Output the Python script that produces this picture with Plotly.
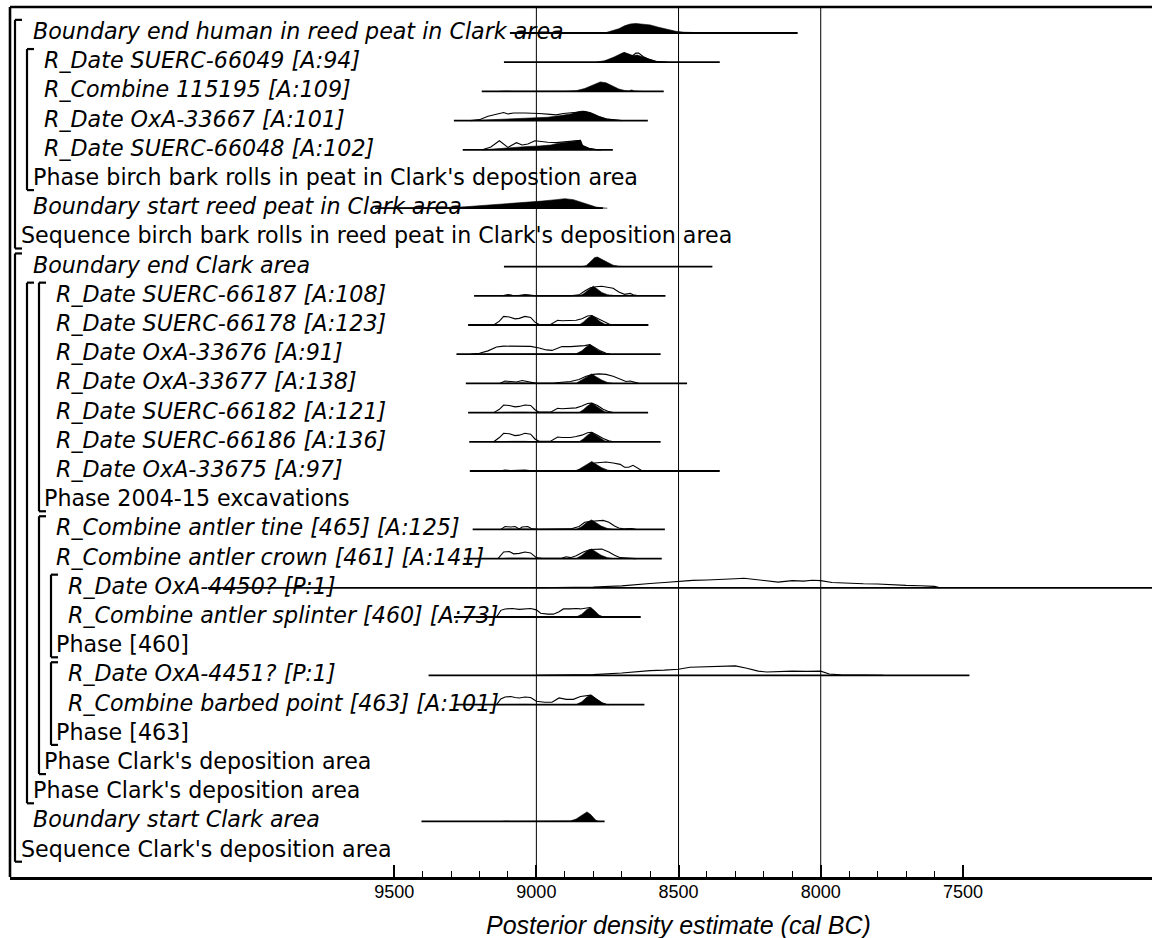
import plotly.graph_objects as go

# ---------------- layout constants ----------------
W, H = 1152, 938
ML, MT, MR, MB = 10, 7, 0, 61
PW = W - ML - MR
PH = H - MT - MB

x_range = [10851, 6835]          # cal BC, reversed (older on the left)
y_range = [29.904, 0.11]         # row index, row 1 at top

# ---------------- row labels ----------------
labels = [
    "Boundary end human in reed peat in Clark area",
    "R_Date SUERC-66049 [A:94]",
    "R_Combine 115195 [A:109]",
    "R_Date OxA-33667 [A:101]",
    "R_Date SUERC-66048 [A:102]",
    "Phase birch bark rolls in peat in Clark's depostion area",
    "Boundary start reed peat in Clark area",
    "Sequence birch bark rolls in reed peat in Clark's deposition area",
    "Boundary end Clark area",
    "R_Date SUERC-66187 [A:108]",
    "R_Date SUERC-66178 [A:123]",
    "R_Date OxA-33676 [A:91]",
    "R_Date OxA-33677 [A:138]",
    "R_Date SUERC-66182 [A:121]",
    "R_Date SUERC-66186 [A:136]",
    "R_Date OxA-33675 [A:97]",
    "Phase 2004-15 excavations",
    "R_Combine antler tine [465] [A:125]",
    "R_Combine antler crown [461] [A:141]",
    "R_Date OxA-4450? [P:1]",
    "R_Combine antler splinter [460] [A:73]",
    "Phase [460]",
    "R_Date OxA-4451? [P:1]",
    "R_Combine barbed point [463] [A:101]",
    "Phase [463]",
    "Phase Clark's deposition area",
    "Phase Clark's deposition area",
    "Boundary start Clark area",
    "Sequence Clark's deposition area",
]
levels = [1, 2, 2, 2, 2, 1, 1, 0,
          1, 3, 3, 3, 3, 3, 3, 3, 2, 3, 3, 4, 4, 3, 4, 4, 3, 2, 1, 1, 0]
italic = [1, 1, 1, 1, 1, 0, 1, 0,
          1, 1, 1, 1, 1, 1, 1, 1, 0, 1, 1, 1, 1, 0, 1, 1, 0, 0, 0, 1, 0]

# grouping brackets: (first row, label row, depth)
groups = [(1, 8, 0), (2, 6, 1), (9, 29, 0), (10, 27, 1),
          (10, 17, 2), (18, 26, 2), (20, 22, 3), (23, 25, 3)]

grid_years = [9000, 8500, 8000]
major_ticks = [9500, 9000, 8500, 8000, 7500]
minor_ticks = [9400, 9300, 9200, 9100, 8900, 8800, 8700, 8600, 8400, 8300,
               8200, 8100, 7900, 7800, 7700, 7600]

# ---------------- distributions ----------------
# row 1 Boundary end human in reed peat
b_end_human_line = [9093, 8081]
b_end_human_post_yr = [8760, 8740, 8710, 8690, 8670, 8650, 8630, 8600, 8570, 8540, 8510, 8480, 8440, 8400, 8350]
b_end_human_post_d = [0, 0.15, 0.45, 0.75, 0.95, 1.0, 0.97, 0.85, 0.6, 0.35, 0.18, 0.08, 0.03, 0.01, 0]

# row 2 SUERC-66049
s66049_line = [9114, 8355]
s66049_post_yr = [8790, 8760, 8730, 8710, 8695, 8675, 8660, 8645, 8625, 8600, 8580, 8560, 8540]
s66049_post_d = [0, 0.15, 0.5, 0.8, 1.0, 0.85, 0.7, 0.75, 0.55, 0.25, 0.1, 0.02, 0]
s66049_prior_yr = [8780, 8750, 8720, 8700, 8690, 8675, 8665, 8650, 8640, 8625, 8605, 8580, 8560, 8540]
s66049_prior_d = [0, 0.15, 0.55, 0.9, 1.0, 0.8, 0.6, 0.95, 0.95, 0.6, 0.3, 0.1, 0.03, 0]

# row 3 R_Combine 115195
c115195_line = [9192, 8552]
c115195_post_yr = [9130, 9105, 9080, 9040, 9010, 8900, 8860, 8830, 8800, 8775, 8755, 8730, 8710, 8690, 8675, 8665, 8655, 8630]
c115195_post_d = [0, 0.05, 0.01, 0.05, 0.01, 0.02, 0.08, 0.3, 0.7, 1.0, 0.9, 0.5, 0.25, 0.1, 0.05, 0.15, 0.05, 0]

# row 4 OxA-33667
o33667_line = [9290, 8608]
o33667_post_yr = [9230, 9180, 9120, 9080, 9040, 9000, 8960, 8920, 8880, 8850, 8835, 8810, 8780, 8750, 8720, 8700]
o33667_post_d = [0, 0.05, 0.15, 0.2, 0.25, 0.3, 0.35, 0.5, 0.7, 0.95, 1.0, 0.85, 0.45, 0.15, 0.03, 0]
o33667_prior_yr = [9230, 9200, 9170, 9150, 9130, 9115, 9100, 9080, 9040, 9010, 8990, 8950, 8930, 8905, 8880, 8850, 8830, 8810, 8780, 8750, 8720, 8700]
o33667_prior_d = [0, 0.1, 0.45, 0.6, 0.75, 0.85, 0.7, 0.8, 0.8, 0.8, 0.75, 0.65, 0.6, 0.75, 0.8, 0.9, 0.95, 0.8, 0.4, 0.15, 0.03, 0]

# row 5 SUERC-66048
s66048_line = [9259, 8731]
s66048_post_yr = [9190, 9150, 9110, 9070, 9030, 8990, 8950, 8920, 8890, 8860, 8845, 8838, 8815, 8790, 8770]
s66048_post_d = [0, 0.1, 0.2, 0.25, 0.35, 0.4, 0.5, 0.7, 0.85, 1.0, 1.0, 0.45, 0.15, 0.02, 0]
s66048_prior_yr = [9190, 9160, 9130, 9115, 9100, 9085, 9070, 9050, 9030, 9005, 8985, 8960, 8930, 8910, 8890, 8860, 8845, 8838, 8815, 8790, 8770]
s66048_prior_d = [0, 0.3, 0.95, 0.6, 0.25, 0.5, 0.75, 0.5, 0.6, 0.95, 0.85, 0.8, 0.75, 0.8, 0.85, 1.0, 1.0, 0.45, 0.15, 0.02, 0]

# row 7 Boundary start reed peat
b_start_reed_line = [9567, 8766]
b_start_reed_post_yr = [9560, 9400, 9300, 9250, 9150, 9050, 8980, 8930, 8900, 8870, 8840, 8810, 8790, 8770, 8750]
b_start_reed_post_d = [0, 0.02, 0.08, 0.15, 0.35, 0.55, 0.75, 0.9, 1.0, 0.9, 0.6, 0.3, 0.12, 0.04, 0]

# row 9 Boundary end Clark area
b_end_clark_line = [9114, 8381]
b_end_clark_post_yr = [9110, 9095, 9080, 8840, 8825, 8810, 8795, 8785, 8770, 8750, 8730, 8710, 8690]
b_end_clark_post_d = [0, 0.03, 0, 0, 0.1, 0.5, 0.95, 1.0, 0.8, 0.45, 0.15, 0.03, 0]

# row 10 SUERC-66187
s66187_line = [9219, 8546]
s66187_post_yr = [9110, 9095, 9080, 9050, 9030, 9010, 8850, 8835, 8815, 8800, 8785, 8770, 8750, 8730, 8700]
s66187_post_d = [0, 0.08, 0.02, 0.08, 0.08, 0, 0, 0.2, 0.7, 1.0, 0.7, 0.35, 0.12, 0.04, 0]
s66187_prior_yr = [9120, 9100, 9085, 9060, 9040, 9020, 9000, 8880, 8850, 8830, 8810, 8790, 8770, 8750, 8730, 8710, 8690, 8670, 8660, 8640]
s66187_prior_d = [0, 0.12, 0.05, 0.03, 0.12, 0.05, 0, 0, 0.1, 0.5, 0.85, 0.95, 1.0, 0.9, 0.8, 0.4, 0.15, 0.25, 0.1, 0]

# row 11 SUERC-66178
s66178_line = [9240, 8606]
s66178_post_yr = [9150, 9120, 9080, 9040, 9000, 8850, 8835, 8820, 8805, 8790, 8775, 8760, 8740]
s66178_post_d = [0, 0.05, 0.05, 0.05, 0, 0, 0.3, 0.7, 1.0, 0.7, 0.35, 0.1, 0]
s66178_prior_yr = [9150, 9130, 9115, 9095, 9075, 9060, 9040, 9020, 9005, 8990, 8950, 8935, 8925, 8910, 8880, 8860, 8840, 8820, 8805, 8785, 8765, 8745, 8730]
s66178_prior_d = [0, 0.4, 0.9, 0.85, 0.65, 0.7, 0.9, 0.8, 0.3, 0.05, 0.05, 0.3, 0.5, 0.45, 0.45, 0.5, 0.65, 0.95, 1.0, 0.7, 0.35, 0.1, 0]

# row 12 OxA-33676
o33676_line = [9281, 8563]
o33676_post_yr = [9230, 9150, 9050, 8950, 8860, 8840, 8825, 8812, 8798, 8780, 8760, 8740]
o33676_post_d = [0, 0.03, 0.04, 0.03, 0.05, 0.35, 0.75, 1.0, 0.7, 0.35, 0.1, 0]
o33676_prior_yr = [9230, 9200, 9170, 9140, 9115, 9080, 9050, 9020, 8990, 8965, 8945, 8925, 8910, 8880, 8850, 8830, 8812, 8795, 8775, 8755, 8740]
o33676_prior_d = [0, 0.1, 0.35, 0.75, 0.85, 0.82, 0.85, 0.82, 0.65, 0.45, 0.4, 0.6, 0.8, 0.8, 0.82, 0.9, 1.0, 0.7, 0.35, 0.1, 0]

# row 13 OxA-33677
o33677_line = [9248, 8470]
o33677_post_yr = [9120, 9100, 9080, 9050, 9020, 8990, 8860, 8845, 8825, 8805, 8790, 8770, 8750, 8730]
o33677_post_d = [0, 0.06, 0.02, 0.06, 0.02, 0, 0.02, 0.3, 0.7, 1.0, 0.7, 0.35, 0.1, 0]
o33677_prior_yr = [9130, 9110, 9090, 9070, 9050, 9030, 9000, 8940, 8920, 8880, 8850, 8825, 8800, 8780, 8755, 8730, 8705, 8685, 8670, 8655, 8640]
o33677_prior_d = [0, 0.25, 0.2, 0.15, 0.3, 0.2, 0, 0, 0.1, 0.2, 0.4, 0.75, 0.95, 1.0, 0.95, 0.75, 0.45, 0.2, 0.25, 0.1, 0]

# row 14 SUERC-66182
s66182_line = [9240, 8607]
s66182_post_yr = [9150, 9120, 9080, 9040, 9000, 8850, 8835, 8820, 8805, 8790, 8775, 8760, 8740]
s66182_post_d = [0, 0.04, 0.04, 0.04, 0, 0, 0.3, 0.7, 1.0, 0.7, 0.35, 0.1, 0]
s66182_prior_yr = [9150, 9130, 9115, 9095, 9075, 9060, 9040, 9020, 9005, 8990, 8950, 8935, 8925, 8910, 8880, 8860, 8840, 8820, 8805, 8785, 8765, 8745, 8730]
s66182_prior_d = [0, 0.35, 0.8, 0.75, 0.6, 0.65, 0.8, 0.75, 0.3, 0.05, 0.05, 0.25, 0.45, 0.4, 0.45, 0.5, 0.7, 0.95, 1.0, 0.75, 0.35, 0.1, 0]

# row 15 SUERC-66186
s66186_line = [9236, 8563]
s66186_post_yr = [9150, 9120, 9080, 9040, 9000, 8850, 8835, 8820, 8805, 8790, 8775, 8760, 8740]
s66186_post_d = [0, 0.05, 0.05, 0.05, 0, 0, 0.3, 0.7, 1.0, 0.7, 0.35, 0.1, 0]
s66186_prior_yr = [9150, 9130, 9115, 9095, 9075, 9060, 9040, 9020, 9005, 8990, 8950, 8935, 8925, 8910, 8880, 8860, 8840, 8820, 8805, 8785, 8765, 8745, 8730]
s66186_prior_d = [0, 0.45, 0.9, 0.85, 0.65, 0.7, 0.9, 0.8, 0.3, 0.05, 0.05, 0.35, 0.5, 0.45, 0.45, 0.55, 0.7, 0.95, 1.0, 0.7, 0.35, 0.1, 0]

# row 16 OxA-33675
o33675_line = [9234, 8355]
o33675_post_yr = [9120, 9100, 9060, 9020, 8860, 8840, 8820, 8805, 8790, 8770, 8750, 8730]
o33675_post_d = [0, 0.05, 0.05, 0, 0, 0.35, 0.75, 1.0, 0.7, 0.35, 0.1, 0]
o33675_prior_yr = [9130, 9110, 9090, 9060, 9040, 9010, 8880, 8860, 8840, 8815, 8795, 8775, 8755, 8730, 8705, 8690, 8675, 8660, 8645, 8630, 8620]
o33675_prior_d = [0, 0.1, 0.05, 0.05, 0.1, 0, 0, 0.05, 0.2, 0.6, 0.85, 0.9, 0.95, 0.85, 0.7, 0.4, 0.4, 0.6, 0.35, 0.05, 0]

# row 18 antler tine
tine_line = [9224, 8548]
tine_post_yr = [9120, 9100, 9040, 9000, 8860, 8840, 8822, 8806, 8790, 8772, 8750, 8730]
tine_post_d = [0, 0.05, 0.04, 0, 0, 0.3, 0.75, 1.0, 0.7, 0.35, 0.1, 0]
tine_prior_yr = [9125, 9110, 9090, 9075, 9060, 9050, 9030, 9015, 8990, 8910, 8880, 8850, 8830, 8805, 8785, 8765, 8745, 8725, 8710, 8690, 8665, 8650]
tine_prior_d = [0, 0.3, 0.25, 0.3, 0.05, 0.25, 0.3, 0.05, 0, 0.05, 0.05, 0.3, 0.75, 0.85, 0.9, 0.95, 0.75, 0.35, 0.15, 0.05, 0.1, 0]

# row 19 antler crown
crown_line = [9255, 8559]
crown_post_yr = [9120, 9100, 9040, 9000, 8860, 8840, 8822, 8806, 8790, 8772, 8750, 8730]
crown_post_d = [0, 0.05, 0.05, 0, 0, 0.35, 0.8, 1.0, 0.7, 0.35, 0.1, 0]
crown_prior_yr = [9135, 9115, 9095, 9080, 9060, 9040, 9020, 9000, 8980, 8910, 8895, 8880, 8860, 8835, 8810, 8790, 8770, 8745, 8725, 8705, 8670, 8650]
crown_prior_d = [0, 0.7, 0.75, 0.5, 0.55, 0.7, 0.6, 0.1, 0.02, 0.05, 0.2, 0.1, 0.3, 0.7, 0.95, 0.95, 1.0, 0.7, 0.35, 0.1, 0.05, 0]

# row 20 OxA-4450? (outlier, likelihood only)
o4450_line = [10155, 6500]
o4450_prior_yr = [9000, 8900, 8800, 8700, 8650, 8600, 8550, 8500, 8450, 8400, 8350, 8300, 8270, 8230, 8180, 8150, 8100, 8060, 8030, 8000, 7960, 7900, 7850, 7800, 7750, 7700, 7650, 7600, 7580]
o4450_prior_d = [0, 0.02, 0.08, 0.2, 0.35, 0.45, 0.55, 0.68, 0.78, 0.82, 0.85, 0.95, 1.0, 0.85, 0.65, 0.6, 0.75, 0.7, 0.8, 0.75, 0.55, 0.45, 0.42, 0.4, 0.3, 0.25, 0.22, 0.15, 0]

# row 21 antler splinter
splinter_line = [9290, 8633]
splinter_post_yr = [9140, 9100, 9040, 8990, 8860, 8840, 8822, 8808, 8795, 8780, 8765, 8750]
splinter_post_d = [0, 0.03, 0.03, 0, 0, 0.3, 0.8, 1.0, 0.6, 0.2, 0.03, 0]
splinter_prior_yr = [9140, 9125, 9110, 9085, 9060, 9040, 9020, 9000, 8985, 8960, 8940, 8920, 8905, 8880, 8860, 8845, 8830, 8812, 8795, 8780, 8770]
splinter_prior_d = [0, 0.7, 0.85, 0.9, 0.8, 0.85, 0.9, 0.75, 0.4, 0.3, 0.3, 0.55, 0.85, 0.85, 0.9, 0.85, 0.9, 1.0, 0.6, 0.1, 0]

# row 23 OxA-4451? (outlier, likelihood only)
o4451_line = [9379, 7477]
o4451_prior_yr = [9000, 8900, 8800, 8700, 8650, 8600, 8550, 8500, 8460, 8420, 8380, 8340, 8300, 8260, 8220, 8190, 8150, 8100, 8050, 8000, 7970, 7930, 7850, 7780]
o4451_prior_d = [0, 0.02, 0.08, 0.25, 0.4, 0.5, 0.55, 0.65, 0.85, 0.9, 0.92, 0.95, 1.0, 0.75, 0.45, 0.35, 0.42, 0.45, 0.42, 0.45, 0.15, 0.05, 0.03, 0]

# row 24 barbed point
barbed_line = [9287, 8620]
barbed_post_yr = [9140, 9100, 9040, 8990, 8860, 8840, 8822, 8808, 8790, 8770, 8755, 8745]
barbed_post_d = [0, 0.03, 0.03, 0, 0, 0.3, 0.8, 1.0, 0.6, 0.2, 0.03, 0]
barbed_prior_yr = [9140, 9125, 9110, 9090, 9075, 9060, 9040, 9020, 9000, 8970, 8945, 8920, 8895, 8870, 8845, 8825, 8808, 8790, 8770, 8755, 8745]
barbed_prior_d = [0, 0.6, 0.8, 0.85, 0.75, 0.7, 0.8, 0.75, 0.35, 0.25, 0.25, 0.7, 0.55, 0.55, 0.85, 0.9, 1.0, 0.6, 0.2, 0.03, 0]

# row 28 Boundary start Clark area
b_start_clark_line = [9404, 8760]
b_start_clark_post_yr = [9120, 9105, 9090, 8900, 8880, 8860, 8845, 8830, 8822, 8810, 8800, 8790, 8780]
b_start_clark_post_d = [0, 0.04, 0, 0, 0.05, 0.25, 0.55, 0.9, 1.0, 0.75, 0.4, 0.1, 0]

# table of (row, line, posterior years, posterior density, prior years, prior density)
dists = [
    (1, b_end_human_line, b_end_human_post_yr, b_end_human_post_d, None, None),
    (2, s66049_line, s66049_post_yr, s66049_post_d, s66049_prior_yr, s66049_prior_d),
    (3, c115195_line, c115195_post_yr, c115195_post_d, None, None),
    (4, o33667_line, o33667_post_yr, o33667_post_d, o33667_prior_yr, o33667_prior_d),
    (5, s66048_line, s66048_post_yr, s66048_post_d, s66048_prior_yr, s66048_prior_d),
    (7, b_start_reed_line, b_start_reed_post_yr, b_start_reed_post_d, None, None),
    (9, b_end_clark_line, b_end_clark_post_yr, b_end_clark_post_d, None, None),
    (10, s66187_line, s66187_post_yr, s66187_post_d, s66187_prior_yr, s66187_prior_d),
    (11, s66178_line, s66178_post_yr, s66178_post_d, s66178_prior_yr, s66178_prior_d),
    (12, o33676_line, o33676_post_yr, o33676_post_d, o33676_prior_yr, o33676_prior_d),
    (13, o33677_line, o33677_post_yr, o33677_post_d, o33677_prior_yr, o33677_prior_d),
    (14, s66182_line, s66182_post_yr, s66182_post_d, s66182_prior_yr, s66182_prior_d),
    (15, s66186_line, s66186_post_yr, s66186_post_d, s66186_prior_yr, s66186_prior_d),
    (16, o33675_line, o33675_post_yr, o33675_post_d, o33675_prior_yr, o33675_prior_d),
    (18, tine_line, tine_post_yr, tine_post_d, tine_prior_yr, tine_prior_d),
    (19, crown_line, crown_post_yr, crown_post_d, crown_prior_yr, crown_prior_d),
    (20, o4450_line, None, None, o4450_prior_yr, o4450_prior_d),
    (21, splinter_line, splinter_post_yr, splinter_post_d, splinter_prior_yr, splinter_prior_d),
    (23, o4451_line, None, None, o4451_prior_yr, o4451_prior_d),
    (24, barbed_line, barbed_post_yr, barbed_post_d, barbed_prior_yr, barbed_prior_d),
    (28, b_start_clark_line, b_start_clark_post_yr, b_start_clark_post_d, None, None),
]

# ---------------- drawing ----------------
ROW_PX = PH / (y_range[0] - y_range[1])
PEAK = 9.5 / ROW_PX          # peak height of each distribution in row units

fig = go.Figure()

for row, line, pyr, pd_, qyr, qd in dists:
    fig.add_trace(go.Scatter(x=line, y=[row, row], mode="lines",
                             line=dict(color="black", width=1.8),
                             hoverinfo="skip", showlegend=False))
    if pyr is not None:
        fig.add_trace(go.Scatter(x=pyr, y=[row - PEAK * d for d in pd_],
                                 mode="lines", fill="toself", fillcolor="black",
                                 line=dict(color="black", width=0.6),
                                 hoverinfo="skip", showlegend=False))
    if qyr is not None:
        fig.add_trace(go.Scatter(x=qyr, y=[row - PEAK * d for d in qd],
                                 mode="lines", line=dict(color="black", width=1.1),
                                 hoverinfo="skip", showlegend=False))


def px_to_paper(px):
    return (px - ML) / PW


shapes = []
# frame: top and left
shapes.append(dict(type="line", xref="paper", yref="paper", x0=0, x1=1.01, y0=1, y1=1,
                   line=dict(color="black", width=2.6)))
shapes.append(dict(type="line", xref="paper", yref="paper", x0=0, x1=0, y0=0, y1=1,
                   line=dict(color="black", width=2.6)))
# grid lines
for g in grid_years:
    shapes.append(dict(type="line", xref="x", yref="paper", x0=g, x1=g, y0=0, y1=1,
                       line=dict(color="black", width=1)))
# brackets
for first, last, depth in groups:
    bx = px_to_paper(15 + 12 * depth)
    tx = px_to_paper(22 + 12 * depth)
    y_top = first - 0.45
    y_bot = last + 0.38
    shapes.append(dict(type="line", xref="paper", yref="y", x0=bx, x1=bx, y0=y_top, y1=y_bot,
                       line=dict(color="black", width=2.2)))
    shapes.append(dict(type="line", xref="paper", yref="y", x0=bx, x1=tx, y0=y_top, y1=y_top,
                       line=dict(color="black", width=2.2)))
    shapes.append(dict(type="line", xref="paper", yref="y", x0=bx, x1=tx, y0=y_bot, y1=y_bot,
                       line=dict(color="black", width=2.2)))

annotations = []
for i, (lab, lev, it) in enumerate(zip(labels, levels, italic)):
    row = i + 1
    annotations.append(dict(
        text=lab, xref="paper", yref="y", x=px_to_paper(21 + 11.7 * lev), y=row,
        xanchor="left", yanchor="middle", yshift=2, showarrow=False,
        borderpad=0, borderwidth=0,
        font=dict(family="DejaVu Sans", size=22.2, color="black",
                  style="italic" if it else "normal")))

annotations.append(dict(
    text="Posterior density estimate (cal BC)", xref="x", yref="paper",
    x=8500, y=-(925 - (H - MB)) / PH, xanchor="center", yanchor="middle",
    showarrow=False, font=dict(family="Liberation Sans, Arial", size=25,
                               color="black", style="italic")))

fig.update_layout(
    width=W, height=H,
    margin=dict(l=ML, r=MR, t=MT, b=MB, pad=0),
    paper_bgcolor="white", plot_bgcolor="white",
    showlegend=False,
    shapes=shapes, annotations=annotations,
    xaxis=dict(range=x_range, showgrid=False, zeroline=False,
               showline=True, linecolor="black", linewidth=2.6,
               tickmode="array", tickvals=major_ticks,
               ticktext=[str(t) for t in major_ticks],
               ticks="inside", ticklen=12, tickwidth=2, tickcolor="black",
               ticklabelstandoff=-3,
               tickfont=dict(family="Liberation Sans, Arial", size=18, color="black"),
               minor=dict(tickmode="array", tickvals=minor_ticks, ticks="inside",
                          ticklen=6, tickwidth=1, tickcolor="black", showgrid=False)),
    yaxis=dict(range=y_range, visible=False, showgrid=False, zeroline=False),
)

fig.write_html("out.html", config={"displayModeBar": False},
               post_script="document.body.style.margin='0';document.body.style.overflow='hidden';")
